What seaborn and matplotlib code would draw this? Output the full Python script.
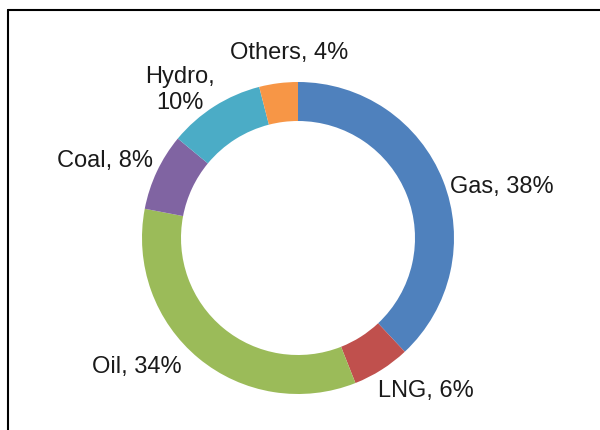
import matplotlib
matplotlib.use("Agg")
import matplotlib.pyplot as plt
import seaborn as sns

sns.set_theme(style="white")
plt.rcParams['font.family'] = ['Liberation Sans', 'DejaVu Sans']

# data
sources = ["Gas", "LNG", "Oil", "Coal", "Hydro", "Others"]
shares = [38, 6, 34, 8, 10, 4]
colors = ["#4F81BD", "#C0504D", "#9BBB59", "#8064A2", "#4BACC6", "#F79646"]

# label layout (pixel coords, baseline y from top), alignment
label_pos = {
    "Gas": (450, 193, "left"),
    "LNG": (378, 397, "left"),
    "Oil": (92, 373, "left"),
    "Coal": (57, 167, "left"),
    "Hydro": (180, 109, "center"),
    "Others": (289, 59, "center"),
}

W, H = 600, 430
fig = plt.figure(figsize=(6, 4.3), dpi=100)
ax = fig.add_axes([0, 0, 1, 1])

ax.pie(shares, colors=colors, startangle=90, counterclock=False,
       radius=156, center=(298, H - 238),
       wedgeprops=dict(width=39, edgecolor="none", linewidth=0))

# pie() resets the limits, so set them afterwards
ax.set_xlim(0, W)
ax.set_ylim(0, H)
ax.set_aspect("equal")
ax.axis("off")

for name, val in zip(sources, shares):
    x, y, ha = label_pos[name]
    if name == "Hydro":
        txt = f"{name},\n{val}%"
    else:
        txt = f"{name}, {val}%"
    ax.text(x, H - y, txt, ha=ha, va="baseline", fontsize=17,
            color="#1a1a1a", linespacing=1.25, multialignment="center")

# frame lines (top and left)
ax.plot([8, W], [H - 10, H - 10], color="black", lw=1.5, clip_on=False)
ax.plot([8, 8], [H - 10, 0], color="black", lw=1.5, clip_on=False)

fig.savefig("out.png", dpi=100)
